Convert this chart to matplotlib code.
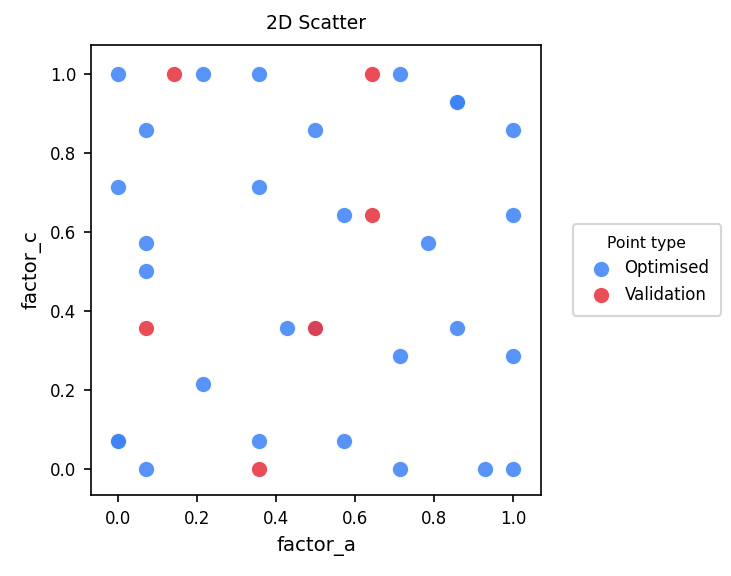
import matplotlib.pyplot as plt
import numpy as np

# grid points sit on multiples of 1/14
opt_a = [0, 3, 5, 10, 12, 12, 1, 7, 14, 0, 5, 8, 14, 1, 11, 1, 6, 7, 12, 10, 14, 3, 0, 0, 5, 8, 1, 10, 13, 14]
opt_c = [14, 14, 14, 14, 13, 13, 12, 12, 12, 10, 10, 9, 9, 8, 8, 7, 5, 5, 5, 4, 4, 3, 1, 1, 1, 1, 0, 0, 0, 0]
val_a = [2, 9, 9, 1, 7, 5]
val_c = [14, 14, 9, 5, 5, 0]

opt_a = np.array(opt_a) / 14
opt_c = np.array(opt_c) / 14
val_a = np.array(val_a) / 14
val_c = np.array(val_c) / 14

fig = plt.figure(figsize=(731 / 150, 576 / 150), dpi=150)
ax = fig.add_axes([91 / 731, 81 / 576, 450 / 731, 450 / 576])

ax.scatter(opt_a, opt_c, s=62, c="#3b82f6", alpha=0.85, edgecolors="white",
           linewidths=0.6, label="Optimised", zorder=2)
ax.scatter(val_a, val_c, s=62, c="#e63946", alpha=0.9, edgecolors="white",
           linewidths=0.6, label="Validation", zorder=3)

ax.set_xlim(-0.068, 1.071)
ax.set_ylim(-0.066, 1.073)
ax.set_xticks([0, 0.2, 0.4, 0.6, 0.8, 1.0])
ax.set_yticks([0, 0.2, 0.4, 0.6, 0.8, 1.0])
ax.tick_params(labelsize=8)
ax.set_xlabel("factor_a", fontsize=9.5)
ax.set_ylabel("factor_c", fontsize=9.5)
ax.set_title("2D Scatter", fontsize=9, pad=7.5)

leg = ax.legend(title="Point type", loc="center left", bbox_to_anchor=(1.052, 0.5),
                fontsize=8, title_fontsize=7.5, markerscale=1.0, handletextpad=0.4,
                borderpad=0.7)

fig.savefig("out.png", dpi=150)
